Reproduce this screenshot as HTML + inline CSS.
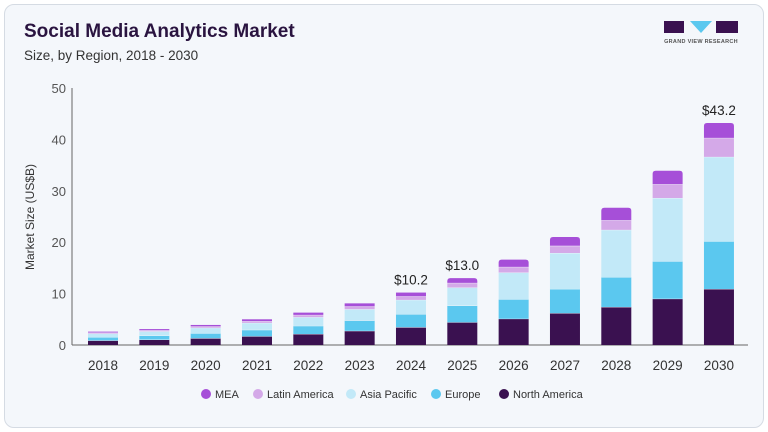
<!DOCTYPE html>
<html><head><meta charset="utf-8"><style>
html,body{margin:0;padding:0;background:#fff;}
body{width:768px;height:432px;overflow:hidden;font-family:"Liberation Sans",Arial,sans-serif;}
.card{position:absolute;left:4px;top:4px;width:758px;height:422px;background:#f4f7fb;border:1px solid #d5dbe3;border-radius:10px;}
</style></head><body>
<div class="card"></div>
<svg id="s" width="768" height="432" style="position:absolute;left:0;top:0" font-family="Liberation Sans, Arial, sans-serif">
<text x="24" y="37" font-size="19" font-weight="bold" fill="#2a1440">Social Media Analytics Market</text>
<text x="24" y="60" font-size="13.5" fill="#333">Size, by Region, 2018 - 2030</text>
<g>
<polygon points="664,21 684,21 684,33 664,33" fill="#3a1150"/>
<polygon points="690,21 712,21 701,33" fill="#5bc8ef"/>
<polygon points="716,21 738,21 738,33 716,33" fill="#3a1150"/>
<text x="701" y="43" font-size="5.5" font-weight="bold" fill="#555" text-anchor="middle" letter-spacing="0.3">GRAND VIEW RESEARCH</text>
</g>
<text transform="translate(34,217) rotate(-90)" font-size="12" fill="#333" text-anchor="middle">Market Size (US$B)</text>
<line x1="72" y1="88" x2="72" y2="345" stroke="#666" stroke-width="1"/>
<line x1="72" y1="345" x2="748" y2="345" stroke="#666" stroke-width="1"/>
<g id="g"></g>
</svg>
<script>
var g=document.getElementById('g'),h='';
for(var v=0;v<=50;v+=10){var y=345-v*5.14;h+='<text x="66" y="'+(y+5)+'" font-size="13" fill="#555" text-anchor="end">'+v+'</text>';}
var tot=[2.6,3.1,3.9,5.0,6.3,8.1,10.2,13.0,16.6,21.0,26.7,33.9,43.2];
var cols=['#3a1150','#5bc8ef','#c2e9f8','#d4a9e8','#a64fd8'];
var sh=[0.34,0.25,0.27,0.07,0.07];
for(var i=0;i<13;i++){
 var cx=103+i*51.33,x=cx-15,base=345,T=tot[i];
 var segs;
 if(i==12)segs=[10.9,9.3,16.4,3.7,2.9];else if(i==11)segs=[9.0,7.3,12.3,2.7,2.6];else if(i==10)segs=[7.4,5.8,9.2,1.9,2.4];
 else if(i==9)segs=[6.2,4.7,7.0,1.4,1.7];else if(i==8)segs=[5.1,3.8,5.2,1.1,1.4];
 else segs=sh.map(function(s){return s*T;});
 for(var k=0;k<5;k++){var hh=segs[k]*5.14;var y=base-hh;
  if(k==4&&hh>4){h+='<path d="M'+x+','+base+' V'+(y+3)+' Q'+x+','+y+' '+(x+3)+','+y+' H'+(x+27)+' Q'+(x+30)+','+y+' '+(x+30)+','+(y+3)+' V'+base+' Z" fill="'+cols[k]+'"/>';}
  else h+='<rect x="'+x+'" y="'+y+'" width="30" height="'+hh+'" fill="'+cols[k]+'"/>';
  if(k<4)h+='<line x1="'+x+'" x2="'+(x+30)+'" y1="'+y+'" y2="'+y+'" stroke="#f4f7fb" stroke-width="0.8"/>';
  base=y;}
 h+='<text x="'+cx+'" y="370" font-size="13.5" fill="#333" text-anchor="middle">'+(2018+i)+'</text>';
 if(i==6||i==7||i==12)h+='<text x="'+cx+'" y="'+(345-T*5.14-8)+'" font-size="13.5" fill="#222" text-anchor="middle">$'+T.toFixed(1)+'</text>';
}
var lg=[['MEA',206,'#a64fd8'],['Latin America',258,'#d4a9e8'],['Asia Pacific',351,'#c2e9f8'],['Europe',436,'#5bc8ef'],['North America',504,'#3a1150']];
lg.forEach(function(l){h+='<circle cx="'+l[1]+'" cy="394" r="5" fill="'+l[2]+'"/><text x="'+(l[1]+9)+'" y="398" font-size="11" fill="#333">'+l[0]+'</text>';});
g.innerHTML=h;
</script>
</body></html>
